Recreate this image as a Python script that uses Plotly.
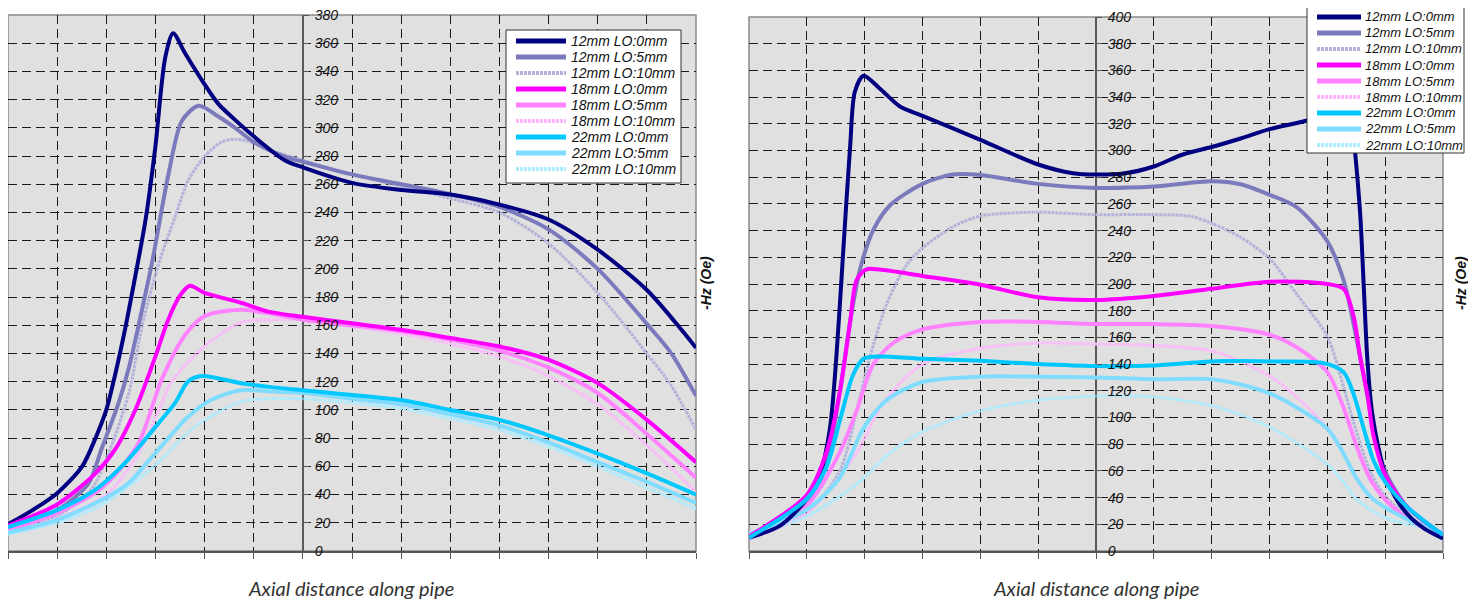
import plotly.graph_objects as go

W, H = 1476, 605
OFF = 8  # the page places the figure 8 px in from the top-left corner

# ---------------- Series metadata ----------------
NAMES = ["12mm LO:0mm", "12mm LO:5mm", "12mm LO:10mm",
         "18mm LO:0mm", "18mm LO:5mm", "18mm LO:10mm",
         "22mm LO:0mm", "22mm LO:5mm", "22mm LO:10mm"]
COLORS = ["#000080", "#7a7abc", "#b2b2da",
          "#ff00ff", "#ff82ff", "#ffb6ff",
          "#00c8ff", "#80dcff", "#aaecff"]
WIDTHS = [4, 4, 3, 4, 4, 3, 4, 4, 3]
DASHES = ["solid", "solid", "3px,1px", "solid", "solid", "3px,1px", "solid", "solid", "3px,1px"]

# ---------------- Left chart data (axial position, -Hz in Oe) ----------------
L_X_12_0 = [-6, -5.5, -5, -4.49, -4.22, -4.0, -3.82, -3.62, -3.48, -3.2, -3.0, -2.8, -2.64, -2.4, -2.06, -1.72, -1.39, -1.0, -0.37, 0, 1, 2, 3, 4, 5, 6, 7, 7.7, 8]
L_Y_12_0 = [19, 29, 41, 60, 80, 100, 125, 157, 182, 235, 287, 350, 367, 353, 334, 317, 306, 294, 277, 272, 261, 256, 252.7, 245.6, 235, 213.6, 185, 157, 144]
L_X_12_5 = [-6, -5, -4.36, -4.1, -3.75, -3.54, -3.28, -3.06, -2.73, -2.46, -2.12, -1.72, -1.38, -1.0, -0.37, 0, 1, 2, 3, 4, 5, 6, 7, 7.5, 8]
L_Y_12_5 = [17, 29, 48, 72, 105, 130, 170, 206, 268, 305, 315.6, 308, 300, 290, 279.6, 276, 267, 260, 253, 244, 228, 200, 161, 140, 110]
L_X_12_10 = [-6, -5, -4.3, -4.0, -3.54, -3.27, -2.93, -2.6, -2.33, -1.99, -1.65, -1.375, -0.97, -0.56, 0, 1, 2, 3, 4, 5, 6, 7, 7.5, 8]
L_Y_12_10 = [15, 25, 44, 65, 112, 160, 204, 237, 263, 280, 290, 292, 289, 283, 277, 267, 258.6, 250, 240, 218, 183, 140, 117, 86]
L_X_18_0 = [-6, -5, -4.22, -3.82, -3.41, -3.0, -2.74, -2.5, -2.3, -2.0, -1.26, -0.7, 0, 1, 2, 3, 4, 5, 6, 7, 8]
L_Y_18_0 = [18, 33, 55, 72, 100, 138, 164, 181, 188, 183, 176, 169.7, 166, 161.5, 156.8, 151, 145, 135.5, 119, 93, 63]
L_X_18_5 = [-6, -5, -4.08, -3.35, -2.88, -2.4, -2.0, -1.26, -0.6, 0, 1, 2, 3, 4, 5, 6, 7, 8]
L_Y_18_5 = [15, 27, 45, 76, 121, 153, 166.5, 171, 168, 164, 160, 156, 150, 142, 130, 112, 83, 52]
L_X_18_10 = [-6, -5, -4.0, -3.4, -2.93, -2.67, -2.0, -1.26, -0.6, 0, 1, 2, 3, 4, 5, 6, 7, 8]
L_Y_18_10 = [13, 23, 40, 66, 100, 120, 145, 162, 164, 164, 159, 154, 147, 138, 124, 104, 75, 42]
L_X_22_0 = [-6, -5, -4.22, -3.55, -3.0, -2.6, -2.34, -2.07, -1.26, -0.6, 0, 1, 2, 3, 4, 5, 6, 7, 8]
L_Y_22_0 = [17, 29, 43.5, 65, 88, 105, 120, 124, 119, 116, 114, 110.6, 107, 100, 93, 82, 69, 55, 40]
L_X_22_5 = [-6, -5, -4.0, -3.55, -3.0, -2.34, -1.87, -1.26, -0.6, 0, 1, 2, 3, 4, 5, 6, 7, 8]
L_Y_22_5 = [13, 22, 38, 48, 69.5, 95, 107, 114, 113, 112, 108, 104, 97, 89, 77, 63, 49, 34]
L_X_22_10 = [-6, -5, -4.08, -3.0, -2.2, -1.26, -0.6, 0, 1, 2, 3, 4, 5, 6, 7, 8]
L_Y_22_10 = [12, 20, 33, 61, 88, 105.9, 108, 108, 105, 101, 94, 86, 74, 60, 45, 30]

# ---------------- Right chart data ----------------
R_X_12_0 = [-6, -5.46, -5, -4.77, -4.6, -4.49, -4.37, -4.25, -4.17, -4.02, -3.74, -3.39, -3, -2, -1, -0.4, 0, 0.47, 1, 1.5, 2, 2.5, 3, 3.65, 4.0, 4.3, 4.42, 4.48, 4.57, 4.63, 4.69, 4.77, 4.92, 5, 5.2, 5.44, 5.67, 6]
R_Y_12_0 = [10, 19, 39, 58, 92, 145, 225, 304, 344, 356, 346.5, 333, 326, 308, 289.5, 283, 282, 282.7, 288, 297, 302.6, 309, 316, 322.5, 328, 338, 322, 298.6, 251, 198, 145, 105, 70, 57, 38.5, 25, 17, 9.3]
R_X_12_5 = [-6, -5, -4.66, -4.43, -4.25, -4.08, -3.85, -3.56, -3, -2.47, -2, -1, 0, 1, 2, 2.5, 3, 3.47, 4, 4.28, 4.45, 4.63, 4.8, 5, 5.38, 6]
R_Y_12_5 = [10, 34, 66, 119, 172, 211, 240.5, 259, 275, 282, 281.6, 275, 272, 273, 277, 274.7, 266.8, 257.5, 232, 203, 171, 131, 91.6, 59.7, 33, 12]
R_X_12_10 = [-6, -5, -4.43, -4.14, -3.91, -3.62, -3.28, -3, -2.47, -2, -1.55, -1, 0, 1, 1.63, 2, 2.5, 3, 3.47, 4, 4.28, 4.45, 4.74, 5, 5.44, 6]
R_Y_12_10 = [9, 28.6, 60, 105, 145, 185, 214, 227, 243, 251, 253, 253.8, 252, 252, 250.8, 245.5, 235, 219, 192.4, 160.6, 123, 97, 59.7, 41, 25, 12]
R_X_18_0 = [-6, -5, -4.66, -4.43, -4.25, -4.14, -3.97, -3.74, -3, -2, -1, 0, 1, 2, 3, 3.94, 4.28, 4.45, 4.57, 4.69, 4.8, 5, 5.38, 6]
R_Y_18_0 = [11, 42, 74, 119, 172, 203, 211, 210.8, 206, 199.5, 190, 188, 191, 196.4, 201.7, 200.4, 196.4, 176.5, 144.7, 118, 86, 57, 33, 12]
R_X_18_5 = [-6, -5, -4.43, -4.14, -3.85, -3.5, -3, -2, -1, 0, 1, 2, 3, 3.47, 4, 4.28, 4.51, 4.74, 5, 5.44, 6]
R_Y_18_5 = [10, 34, 74, 105, 140, 156, 166, 171.6, 171.6, 170, 170, 168.5, 162, 152.6, 134, 107.5, 78, 54, 38.5, 22.6, 12]
R_X_18_10 = [-6, -5, -4.14, -3.68, -3, -2, -1, 0, 1, 2, 2.5, 3, 3.47, 4, 4.28, 4.51, 4.8, 5.44, 6]
R_Y_18_10 = [9, 28.6, 73.6, 110.7, 140, 151.8, 155.8, 155, 154, 150, 142, 131, 115.5, 91.6, 73, 54, 38.5, 22.6, 12]
R_X_22_0 = [-6, -5, -4.66, -4.43, -4.2, -4.02, -3.74, -3, -2, -1, 0, 1, 2, 3, 3.94, 4.28, 4.45, 4.63, 4.8, 5, 5.38, 6]
R_Y_22_0 = [10, 39, 63, 97.5, 132, 144, 145.7, 144, 142.5, 140, 138.5, 139, 142, 142, 140.7, 134, 118, 91.6, 67.7, 51.8, 33, 12]
R_X_22_5 = [-6, -5, -4.43, -4.02, -3.62, -3, -2, -1, 0, 1, 2, 2.5, 3, 3.47, 4, 4.28, 4.51, 4.8, 5.44, 6]
R_Y_22_5 = [12.7, 31, 55, 92, 113, 126.6, 130.6, 130.6, 130, 128.7, 128.7, 124.7, 118, 107.5, 91.6, 73, 54, 38.5, 22.6, 13.3]
R_X_22_10 = [-6, -5, -4.14, -3.56, -3, -2, -1, 0, 1, 2, 2.5, 3, 3.47, 4, 4.28, 4.51, 5, 6]
R_Y_22_10 = [11.4, 26, 50, 73.6, 89.5, 105, 113, 116, 115.5, 108.8, 102, 93, 81, 65, 51.8, 38.5, 25, 14.6]

LEFT = [(L_X_12_0, L_Y_12_0), (L_X_12_5, L_Y_12_5), (L_X_12_10, L_Y_12_10),
        (L_X_18_0, L_Y_18_0), (L_X_18_5, L_Y_18_5), (L_X_18_10, L_Y_18_10),
        (L_X_22_0, L_Y_22_0), (L_X_22_5, L_Y_22_5), (L_X_22_10, L_Y_22_10)]
RIGHT = [(R_X_12_0, R_Y_12_0), (R_X_12_5, R_Y_12_5), (R_X_12_10, R_Y_12_10),
         (R_X_18_0, R_Y_18_0), (R_X_18_5, R_Y_18_5), (R_X_18_10, R_Y_18_10),
         (R_X_22_0, R_Y_22_0), (R_X_22_5, R_Y_22_5), (R_X_22_10, R_Y_22_10)]

L_XRANGE = [-6, 8]
L_YRANGE = [0, 380]
R_XRANGE = [-6, 6]
R_YRANGE = [0, 400]

X_TITLE = "Axial distance along pipe"
Y_TITLE = "-Hz (Oe)"

fig = go.Figure()

order = [2, 5, 8, 1, 4, 7, 0, 3, 6]
for data, xa, ya in [(LEFT, "x", "y"), (RIGHT, "x2", "y2")]:
    for i in order:
        xs, ys = data[i]
        fig.add_trace(go.Scatter(
            x=xs, y=ys, mode="lines", name=NAMES[i], showlegend=False,
            line=dict(color=COLORS[i], width=WIDTHS[i], dash=DASHES[i], shape="spline", smoothing=0.8),
            xaxis=xa, yaxis=ya, hoverinfo="skip",
        ))

# page-pixel -> paper fraction helpers
def px(x):
    return (x - OFF) / W

def py(y):
    return (H - (y - OFF)) / H

L_X0, L_X1 = 8, 696
R_X0, R_X1 = 749, 1443
TOP_L, TOP_R, BOT = 15, 17, 551

tickfont = dict(family="Liberation Sans, Arial", size=14, color="#111111", style="italic")
grid_common = dict(showgrid=True, gridcolor="#1a1a1a", gridwidth=1, griddash="9px,5px")

def xaxis_cfg(domain, rng):
    return dict(domain=domain, range=rng, dtick=1, tick0=0, showticklabels=False,
                ticks="outside", ticklen=6, tickcolor="#555555", tickwidth=1,
                showline=True, linecolor="#555555", linewidth=2,
                zeroline=True, zerolinecolor="#5a5a5a", zerolinewidth=1.5,
                fixedrange=True, automargin=False, **grid_common)

def yaxis_cfg(domain, rng, pos):
    return dict(domain=domain, range=rng, dtick=20, tick0=0, anchor="free", position=pos,
                side="right", ticks="outside", ticklen=5, tickcolor="#555555",
                tickfont=tickfont, ticklabelstandoff=3, ticklabeloverflow="allow",
                showline=False, zeroline=False,
                fixedrange=True, automargin=False, **grid_common)

l_zero = L_X0 + (0 - L_XRANGE[0]) / (L_XRANGE[1] - L_XRANGE[0]) * (L_X1 - L_X0)
r_zero = R_X0 + (0 - R_XRANGE[0]) / (R_XRANGE[1] - R_XRANGE[0]) * (R_X1 - R_X0)

fig.update_layout(
    width=W, height=H,
    margin=dict(l=0, r=0, t=0, b=0, pad=0, autoexpand=False),
    paper_bgcolor="white",
    plot_bgcolor="#e0e0e0",
    xaxis=xaxis_cfg([max(0, px(L_X0)), px(L_X1)], L_XRANGE) | dict(anchor="y"),
    yaxis=yaxis_cfg([py(BOT), py(TOP_L)], L_YRANGE, px(l_zero)),
    xaxis2=xaxis_cfg([px(R_X0), px(R_X1)], R_XRANGE) | dict(anchor="y2"),
    yaxis2=yaxis_cfg([py(BOT), py(TOP_R)], R_YRANGE, px(r_zero)),
    showlegend=False,
    hovermode=False,
)

for xr, yr in [("x domain", "y domain"), ("x2 domain", "y2 domain")]:
    fig.add_shape(type="rect", xref=xr, yref=yr, x0=0, x1=1, y0=0, y1=1,
                  line=dict(color="#8a8a8a", width=1.5), layer="below")

# ---------------- Legend boxes (as in the original spreadsheet chart) ----------------
LEGENDS = [
    dict(x0=506, x1=681, y0=30, y1=183, first=41, pitch=16, lx0=516, lx1=566, tx=569, fs=14),
    dict(x0=1307, x1=1464, y0=-4, y1=153, first=17, pitch=16, lx0=1317, lx1=1361, tx=1363, fs=13),
]
for lg in LEGENDS:
    legend_font = dict(family="Liberation Sans, Arial", size=lg["fs"], color="#111111", style="italic")
    fig.add_shape(type="rect", xref="paper", yref="paper",
                  x0=px(lg["x0"]), x1=px(lg["x1"]), y0=py(lg["y1"]), y1=py(lg["y0"]),
                  fillcolor="white", line=dict(color="#333333", width=1), layer="above")
    for i, name in enumerate(NAMES):
        yc = lg["first"] + i * lg["pitch"]
        fig.add_shape(type="line", xref="paper", yref="paper",
                      x0=px(lg["lx0"]), x1=px(lg["lx1"]), y0=py(yc), y1=py(yc),
                      line=dict(color=COLORS[i], width=WIDTHS[i] + 1, dash=DASHES[i]), layer="above")
        fig.add_annotation(text=name, x=px(lg["tx"]), y=py(yc), xref="paper", yref="paper",
                           showarrow=False, font=legend_font, xanchor="left", yanchor="middle")

title_font = dict(family="Lato, Open Sans, DejaVu Sans", size=20, color="#333333", style="italic")
ylab_font = dict(family="Liberation Sans, Arial", size=14, color="#111111", style="italic", weight="bold")

for cx in (351, 1096):
    fig.add_annotation(text=X_TITLE, x=px(cx), y=py(588), xref="paper", yref="paper",
                       showarrow=False, font=title_font, xanchor="center", yanchor="middle")
for cx in (706, 1461):
    fig.add_annotation(text=Y_TITLE, x=px(cx), y=py(283), xref="paper", yref="paper", textangle=-90,
                       showarrow=False, font=ylab_font, xanchor="center", yanchor="middle")

fig.write_html("out.html")
